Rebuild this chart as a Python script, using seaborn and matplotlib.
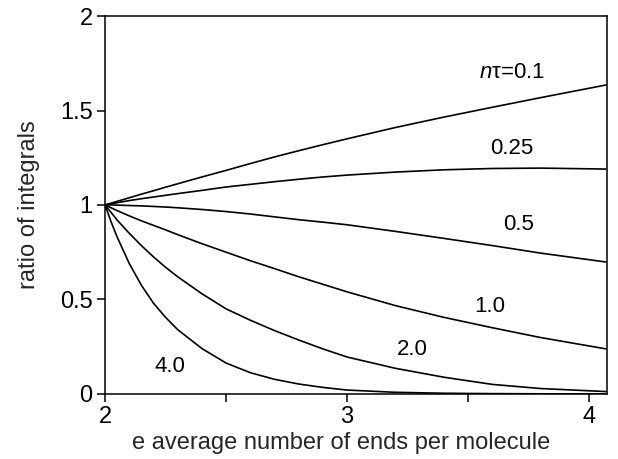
import matplotlib
matplotlib.use("Agg")
import matplotlib.pyplot as plt
import pandas as pd
import seaborn as sns

# average number of ends per molecule
ends = [2.0, 2.025, 2.05, 2.1, 2.15, 2.2, 2.25, 2.3, 2.4, 2.5, 2.6, 2.7,
        2.8, 2.9, 3.0, 3.2, 3.4, 3.6, 3.8, 4.07]

# ratio of integrals for each value of n*tau
ratio_01 = [1.0, 1.0095, 1.019, 1.038, 1.057, 1.075, 1.094, 1.112, 1.148,
            1.183, 1.219, 1.254, 1.287, 1.319, 1.35, 1.41, 1.465, 1.517,
            1.568, 1.635]
ratio_025 = [1.0, 1.006, 1.012, 1.023, 1.033, 1.042, 1.051, 1.06, 1.077,
             1.095, 1.109, 1.123, 1.136, 1.148, 1.158, 1.174, 1.186, 1.193,
             1.195, 1.19]
ratio_05 = [1.0, 1.0, 0.999, 0.997, 0.995, 0.992, 0.989, 0.985, 0.976,
            0.965, 0.952, 0.937, 0.922, 0.909, 0.895, 0.86, 0.823, 0.785,
            0.745, 0.698]
ratio_10 = [1.0, 0.985, 0.97, 0.942, 0.916, 0.892, 0.868, 0.843, 0.795,
            0.75, 0.705, 0.663, 0.62, 0.58, 0.54, 0.467, 0.405, 0.35,
            0.298, 0.238]
ratio_20 = [1.0, 0.96, 0.92, 0.85, 0.785, 0.725, 0.67, 0.62, 0.53, 0.45,
            0.39, 0.335, 0.285, 0.238, 0.195, 0.135, 0.088, 0.05, 0.028,
            0.012]
ratio_40 = [1.0, 0.91, 0.83, 0.69, 0.575, 0.48, 0.405, 0.34, 0.24, 0.163,
            0.112, 0.077, 0.052, 0.034, 0.02, 0.008, 0.003, 0.001, 0.0, 0.0]

series_names = ["0.1", "0.25", "0.5", "1.0", "2.0", "4.0"]
series_values = [ratio_01, ratio_025, ratio_05, ratio_10, ratio_20, ratio_40]

# curve labels: text, x, y
label_texts = ["$n$τ=0.1", "0.25", "0.5", "1.0", "2.0", "4.0"]
label_x = [3.68, 3.68, 3.71, 3.59, 3.27, 2.27]
label_y = [1.70, 1.30, 0.894, 0.46, 0.233, 0.143]

x_ticks = [2, 2.5, 3, 3.5, 4]
x_tick_labels = ["2", "", "3", "", "4"]
y_ticks = [0, 0.5, 1, 1.5, 2]
y_tick_labels = ["0", "0.5", "1", "1.5", "2"]

rows = []
for name, vals in zip(series_names, series_values):
    for xv, yv in zip(ends, vals):
        rows.append({"ends": xv, "ratio": yv, "ntau": name})
df = pd.DataFrame(rows)

sns.set_style("ticks")
plt.rcParams["font.family"] = ["Liberation Sans", "DejaVu Sans"]
plt.rcParams["mathtext.fontset"] = "custom"
plt.rcParams["mathtext.it"] = "Liberation Sans:italic"
plt.rcParams["mathtext.rm"] = "Liberation Sans"

fig = plt.figure(figsize=(6.18, 4.59), dpi=100)
ax = fig.add_axes([0.170, 0.142, 0.812, 0.823])

sns.lineplot(data=df, x="ends", y="ratio", hue="ntau", hue_order=series_names,
             palette=["black"] * len(series_names), linewidth=1.2,
             legend=False, ax=ax, sort=False)

for t, lx, ly in zip(label_texts, label_x, label_y):
    ax.text(lx, ly, t, fontsize=16, ha="center", va="center", color="black")

ax.set_xlim(2, 4.074)
ax.set_ylim(0, 2)
ax.set_xticks(x_ticks)
ax.set_xticklabels(x_tick_labels)
ax.set_yticks(y_ticks)
ax.set_yticklabels(y_tick_labels)
ax.tick_params(direction="out", length=6, width=1.1, labelsize=17,
               colors="black", pad=3)
for sp in ax.spines.values():
    sp.set_visible(True)
    sp.set_linewidth(1.1)
    sp.set_color("black")

ax.set_xlabel("e average number of ends per molecule", fontsize=17)
ax.set_ylabel("ratio of integrals", fontsize=17)
ax.xaxis.set_label_coords(0.47, -0.102)
ax.yaxis.set_label_coords(-0.13, 0.5)

fig.savefig("out.png", dpi=100)
